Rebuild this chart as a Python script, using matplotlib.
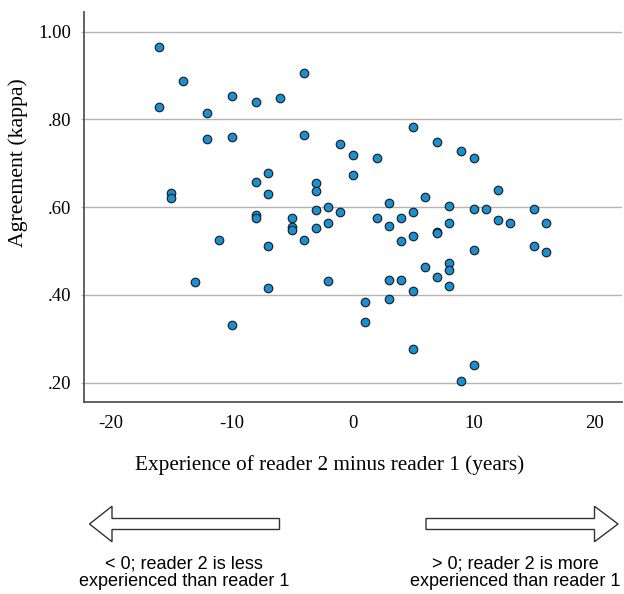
import matplotlib
matplotlib.use('Agg')
import matplotlib.pyplot as plt
from matplotlib.patches import FancyArrow

plt.rcParams['axes.unicode_minus'] = False

# experience difference (years) and kappa
exp_diff = [-16, -14, -16, -12, -10, -8, -6, -4, -12, -10, -4, -1, 0, 0,
            -8, -7, -7, -3, -3, -3, -2, -1, -15, -15,
            5, 7, 9, 10, 2, 12, 6, 3, 8, 5, 10, 11, 15,
            2, 3, 4, 5, 4, 7, 7, 8, 12, 13, 16, 10, 15, 16,
            6, 8, 8, 7, 8, 3, 4, 5, 3, 1, 1, 5, 10, 9,
            -8, -8, -5, -5, -5, -2, -3, -4, -7, -11, -13, -7, -2, -10]
kappa = [0.965, 0.888, 0.828, 0.815, 0.853, 0.839, 0.848, 0.906, 0.755, 0.761, 0.765, 0.744, 0.719, 0.673,
         0.658, 0.678, 0.630, 0.655, 0.637, 0.594, 0.600, 0.590, 0.633, 0.620,
         0.783, 0.748, 0.728, 0.712, 0.712, 0.639, 0.624, 0.609, 0.603, 0.590, 0.595, 0.595, 0.596,
         0.576, 0.557, 0.575, 0.534, 0.524, 0.544, 0.541, 0.564, 0.571, 0.564, 0.563, 0.503, 0.512, 0.498,
         0.463, 0.473, 0.457, 0.440, 0.421, 0.434, 0.434, 0.408, 0.391, 0.383, 0.339, 0.277, 0.241, 0.205,
         0.583, 0.576, 0.576, 0.554, 0.548, 0.563, 0.552, 0.525, 0.512, 0.526, 0.429, 0.415, 0.431, 0.332]

xticks = [-20, -10, 0, 10, 20]
yticks = [0.2, 0.4, 0.6, 0.8, 1.0]
ytick_labels = ['.20', '.40', '.60', '.80', '1.00']

serif = 'Liberation Serif'
sans = 'Liberation Sans'

fig = plt.figure(figsize=(6.24, 5.94), dpi=100)
ax = fig.add_axes([0.1346, 0.3232, 0.862, 0.6566])

ax.scatter(exp_diff, kappa, s=38, c='#1a90d2', edgecolors='#1a1a1a',
           linewidths=0.8, zorder=3)

ax.set_xlim(-22.2, 22.26)
ax.set_ylim(0.156, 1.045)
ax.set_xticks(xticks)
ax.set_yticks(yticks)
ax.set_yticklabels(ytick_labels)
ax.yaxis.grid(True, color='#b4b4b4', lw=1.0)
ax.set_axisbelow(True)
for s in ['top', 'right']:
    ax.spines[s].set_visible(False)
for s in ['left', 'bottom']:
    ax.spines[s].set_color('#555555')
    ax.spines[s].set_linewidth(1.3)
ax.tick_params(axis='x', length=0, pad=9)
ax.tick_params(axis='y', length=2, color='#b4b4b4', pad=7)
for lab in ax.get_xticklabels() + ax.get_yticklabels():
    lab.set_fontfamily(serif)
    lab.set_fontsize(13.5)

ax.set_xlabel('Experience of reader 2 minus reader 1 (years)', family=serif,
              fontsize=15.3)
ax.xaxis.set_label_coords(0.457, -0.137)
ax.set_ylabel('Agreement (kappa)', family=serif, fontsize=15.7)
ax.yaxis.set_label_coords(-0.104, 0.613)

# arrows and notes below the chart, in pixel coordinates
ov = fig.add_axes([0, 0, 1, 1])
ov.set_xlim(0, 624)
ov.set_ylim(594, 0)
ov.axis('off')
ov.add_patch(FancyArrow(279.5, 524, -190, 0, width=11, head_width=35.5,
                        head_length=22.5, length_includes_head=True,
                        fc='white', ec='#333333', lw=1.0))
ov.add_patch(FancyArrow(426, 524, 192, 0, width=11, head_width=35.5,
                        head_length=23.5, length_includes_head=True,
                        fc='white', ec='#333333', lw=1.0))
ov.text(184, 572.5, '< 0; reader 2 is less\nexperienced than reader 1',
        family=sans, fontsize=13, ha='center', va='center', linespacing=1.05)
ov.text(515, 572.5, '> 0; reader 2 is more\nexperienced than reader 1',
        family=sans, fontsize=13, ha='center', va='center', linespacing=1.05)

fig.savefig('out.png', dpi=100)
